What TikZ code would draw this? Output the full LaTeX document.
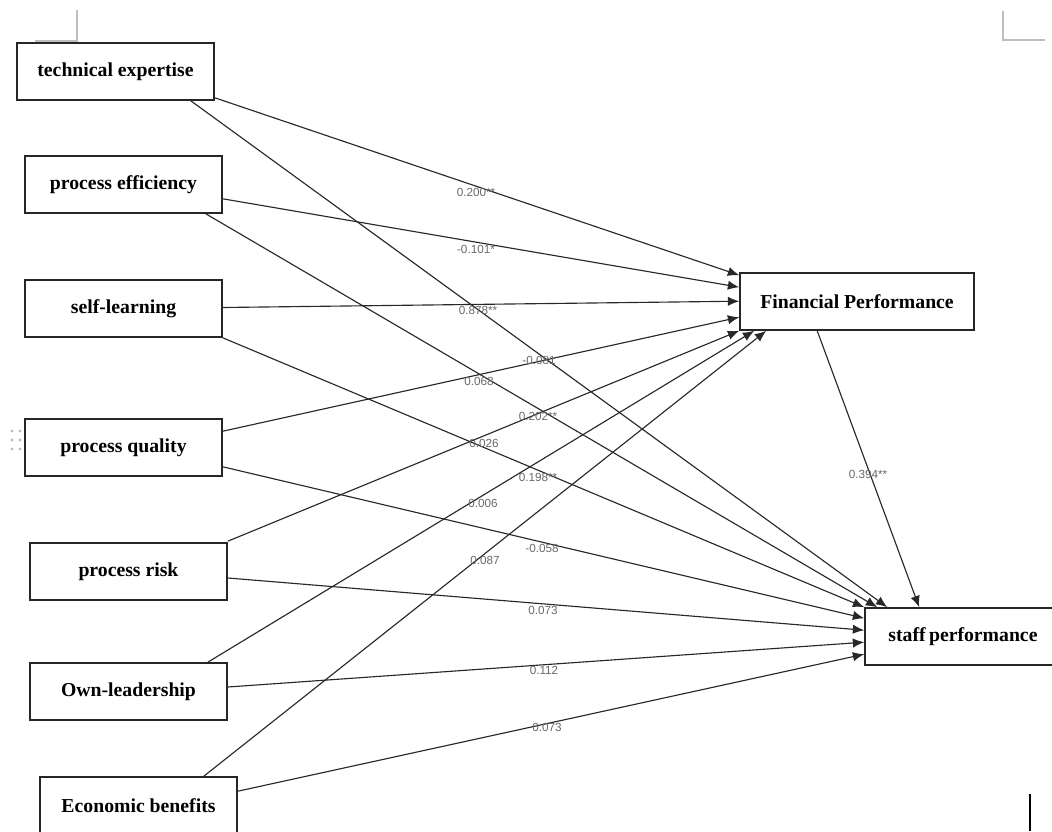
\documentclass[tikz,border=0pt]{standalone}
\usepackage{fontspec}
\setmainfont{Liberation Serif}
\newfontfamily\lblfont{Liberation Sans}
\usetikzlibrary{arrows.meta,calc}
\definecolor{edgecol}{RGB}{40,40,40}
\definecolor{lblcol}{RGB}{105,105,105}
\definecolor{markcol}{RGB}{190,190,190}
\begin{document}
\begin{tikzpicture}[x=0.75pt,y=-0.75pt,
  varbox/.style={draw=black!85, line width=1.2pt, fill=white, rectangle, inner sep=0pt,
    minimum width=147.75pt, minimum height=42.75pt,
    font=\fontsize{14.8}{17}\selectfont\bfseries},
  path/.style={draw=edgecol, line width=0.85pt, -{Latex[length=8.5pt,width=7pt]}},
  coef/.style={text=lblcol, inner sep=0pt, font=\lblfont\fontsize{8.8}{10}\selectfont}]
\clip (0,0) rectangle (1052,831);
\fill[white] (0,0) rectangle (1052,831);
% page marks
\draw[markcol, line width=0.9pt] (77,10) -- (77,41) -- (35,41);
\draw[markcol, line width=0.9pt] (1003,11) -- (1003,40) -- (1045,40);
\draw[black, line width=1.2pt] (1030,794) -- (1030,831);
\foreach \yy in {431,440,449}{\fill[markcol] (12,\yy) circle (1.6); \fill[markcol] (20,\yy) circle (1.6);}
% nodes
\node[varbox] (TE) at (115.5,71.5) {technical expertise};
\node[varbox] (PE) at (123.5,184.5) {process efficiency};
\node[varbox] (SL) at (123.5,308.5) {self-learning};
\node[varbox] (PQ) at (123.5,447.5) {process quality};
\node[varbox] (PR) at (128.5,571.5) {process risk};
\node[varbox] (OL) at (128.5,691.5) {Own-leadership};
\node[varbox] (EB) at (138.5,805.5) {Economic benefits};
\node[varbox, minimum width=175.5pt] (FP) at (857,301.5) {Financial Performance};
\node[varbox, minimum width=147pt] (SP) at (963,636.5) {staff\,performance};
% paths
\draw[path] ($(TE.south east)+(0,-3)$) -- ($(FP.north west)+(0,3)$);
\draw[path] ($(TE.south east)+(-24,0)$) -- ($(SP.north west)+(23,0)$);
\draw[path] ($(PE.south east)+(0,-15)$) -- ($(FP.north west)+(0,15)$);
\draw[path] ($(PE.south east)+(-17,0)$) -- ($(SP.north west)+(13,0)$);
\draw[path] ($(SL.east)+(0,-1)$) -- ($(FP.north west)+(0,29)$);
\draw[path] (SL.south east) -- (SP.north west);
\draw[path] ($(PQ.north east)+(0,13)$) -- ($(FP.north west)+(0,45)$);
\draw[path] ($(PQ.south east)+(0,-10)$) -- ($(SP.north west)+(0,11)$);
\draw[path] ($(PR.north east)+(0,-1)$) -- (FP.south west);
\draw[path] ($(PR.east)+(0,6.5)$) -- ($(SP.north west)+(0,23)$);
\draw[path] ($(OL.north east)+(-20,0)$) -- ($(FP.south west)+(15,0)$);
\draw[path] ($(OL.east)+(0,-4.5)$) -- ($(SP.north west)+(0,35)$);
\draw[path] ($(EB.north east)+(-34,0)$) -- ($(FP.south west)+(27,0)$);
\draw[path] ($(EB.north east)+(0,15)$) -- ($(SP.north west)+(0,47)$);
\draw[path] ($(FP.south west)+(78,0)$) -- ($(SP.north west)+(55,0)$);
% coefficients
\node[coef] (c1) at (476,192) {0.200**};
\node[coef] (c2) at (476,249) {-0.101*};
\node[coef] (c3) at (478,310) {0.878**};
\node[coef] (c4) at (539,360) {-0.081};
\node[coef] (c5) at (479,381) {0.068};
\node[coef] (c6) at (538,416) {0.202**};
\node[coef] (c7) at (484,443) {0.026};
\node[coef] (c8) at (538,477) {0.198**};
\node[coef] (c9) at (483,503) {0.006};
\node[coef] (c10) at (542,548) {-0.058};
\node[coef] (c11) at (485,560) {0.087};
\node[coef] (c12) at (543,610) {0.073};
\node[coef] (c13) at (544,670) {0.112};
\node[coef] (c14) at (547,727) {0.073};
\node[coef] (c15) at (868,474) {0.394**};
\end{tikzpicture}
\end{document}
